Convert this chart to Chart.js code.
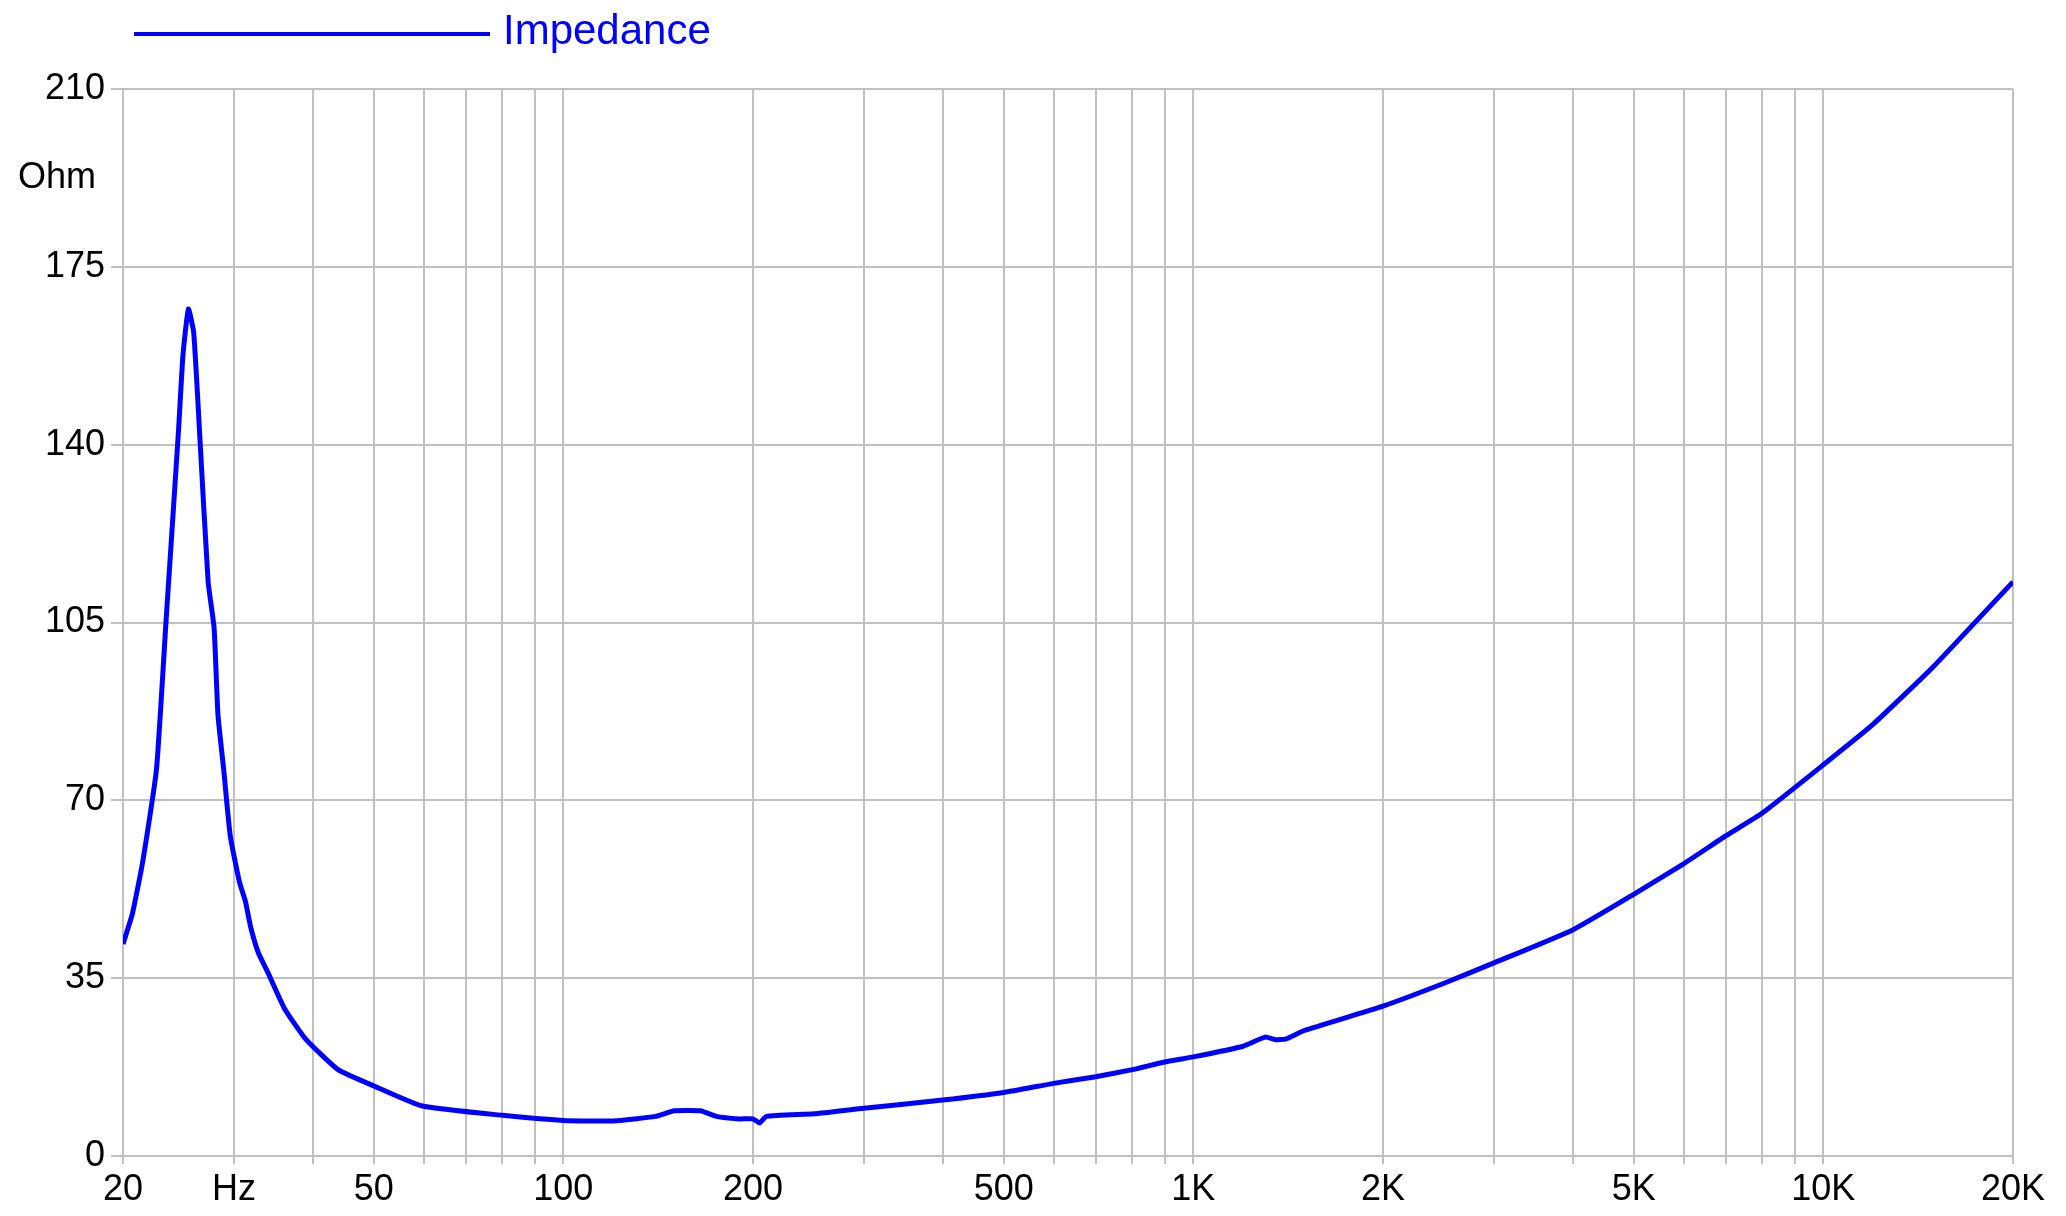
<!DOCTYPE html>
<html>
<head>
<meta charset="utf-8">
<script src="https://cdn.jsdelivr.net/npm/chart.js@4"></script>
<style>
  html, body { margin: 0; padding: 0; background: #fff; }
  #wrap { width: 2066px; height: 1216px; }
</style>
</head>
<body>
<div id="wrap"><canvas id="chart"></canvas></div>
<script>
// frequency (Hz) and impedance (Ohm)
const freqs = [20, 20.7, 21.5, 22.6, 23.4, 24.5, 24.9, 25.4, 25.9, 26.5, 27.3, 27.9, 28.3, 28.9, 29.6, 30.6, 31.3, 31.9, 32.8, 34, 36.1, 39, 43.9, 50, 59.5, 80, 100, 120, 140, 150, 165, 175, 190, 200, 205, 210, 250, 300, 400, 500, 600, 700, 800, 900, 1000, 1200, 1300, 1350, 1400, 1500, 2000, 2500, 3000, 4000, 5000, 6000, 7000, 8000, 10000, 12000, 15000, 20000];
const ohms = [41.7, 47.7, 58, 76, 105, 142.8, 157.6, 166.7, 162, 141, 113, 104, 86.8, 76, 63, 54, 50, 45, 40, 36, 29, 23, 17, 13.8, 9.9, 8, 7, 6.9, 7.8, 8.9, 8.9, 7.8, 7.3, 7.3, 6.5, 7.8, 8.3, 9.4, 11, 12.5, 14.3, 15.6, 17, 18.5, 19.5, 21.6, 23.4, 22.9, 23, 24.7, 29.5, 34, 38, 44.5, 51.5, 57.5, 63, 67.5, 77, 85, 96.5, 113];

const gridFreqs = [20, 30, 40, 50, 60, 70, 80, 90, 100, 200, 300, 400, 500, 600, 700, 800, 900,
  1000, 2000, 3000, 4000, 5000, 6000, 7000, 8000, 9000, 10000, 20000];
const freqLabels = { 20: '20', 30: 'Hz', 50: '50', 100: '100', 200: '200', 500: '500',
  1000: '1K', 2000: '2K', 5000: '5K', 10000: '10K', 20000: '20K' };
const yTicks = [0, 35, 70, 105, 140, 175, 210];

const blue = '#0000ff';
const font = { family: 'Liberation Sans, Arial, sans-serif', size: 36 };

// legend line + "Ohm" unit label drawn on the canvas
const extras = {
  id: 'extras',
  afterDraw(chart) {
    const c = chart.ctx;
    c.save();
    c.strokeStyle = blue;
    c.lineWidth = 4;
    c.beginPath();
    c.moveTo(134, 34);
    c.lineTo(490, 34);
    c.stroke();
    c.fillStyle = blue;
    c.font = '42px Liberation Sans, Arial, sans-serif';
    c.textBaseline = 'middle';
    c.fillText('Impedance', 503, 32);
    c.fillStyle = '#000';
    c.font = '36px Liberation Sans, Arial, sans-serif';
    c.fillText('Ohm', 18, chart.scales.y.getPixelForValue(192.5));
    c.restore();
  }
};

new Chart(document.getElementById('chart'), {
  type: 'scatter',
  data: {
    datasets: [{
      label: 'Impedance',
      data: freqs.map((f, i) => ({ x: f, y: ohms[i] })),
      showLine: true,
      borderColor: blue,
      borderWidth: 5,
      pointRadius: 0,
      tension: 0.15
    }]
  },
  options: {
    responsive: true,
    maintainAspectRatio: false,
    animation: false,
    layout: { padding: { top: 89, right: 53, left: 0, bottom: 0 } },
    plugins: { legend: { display: false }, tooltip: { enabled: false } },
    scales: {
      x: {
        type: 'logarithmic',
        min: 20, max: 20000,
        afterBuildTicks(axis) { axis.ticks = gridFreqs.map(v => ({ value: v })); },
        afterFit(axis) { axis.height = 60; },
        ticks: {
          autoSkip: false, maxRotation: 0, color: '#000', font: font, padding: 4,
          callback: v => freqLabels[v] || ''
        },
        grid: { color: '#c0c0c0', lineWidth: 2, tickLength: 8 },
        border: { color: '#c0c0c0', width: 2 }
      },
      y: {
        min: 0, max: 210,
        afterBuildTicks(axis) { axis.ticks = yTicks.map(v => ({ value: v })); },
        afterFit(axis) { axis.width = 123; },
        ticks: { color: '#000', font: font, padding: 6 },
        grid: { color: '#c0c0c0', lineWidth: 2, tickLength: 12 },
        border: { color: '#c0c0c0', width: 2 }
      }
    }
  },
  plugins: [extras]
});
</script>
</body>
</html>
